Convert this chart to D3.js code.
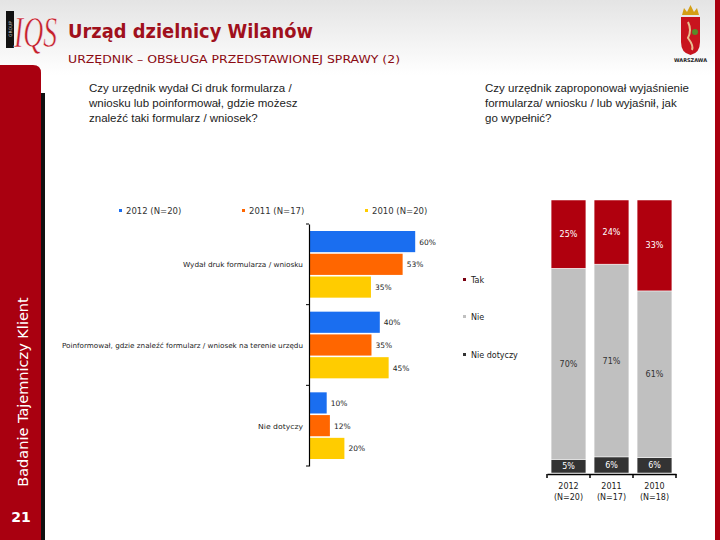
<!DOCTYPE html>
<html><head><meta charset="utf-8">
<script src="https://cdn.jsdelivr.net/npm/d3@7"></script>
<style>body{margin:0;background:#fff}svg{display:block}</style>
</head><body>
<script>
// ---- data ----
const categories = ["Wydał druk formularza / wniosku", "Poinformował, gdzie znaleźć formularz / wniosek na terenie urzędu", "Nie dotyczy"];
const seriesNames = ["2012 (N=20)", "2011 (N=17)", "2010 (N=20)"];
const values2012 = [60, 40, 10];
const values2011 = [52.9, 35.3, 11.8];
const values2010 = [35, 45, 20];

const years = ["2012", "2011", "2010"];
const yearN = ["(N=20)", "(N=17)", "(N=18)"];
const stackNames = ["Tak", "Nie", "Nie dotyczy"];
const tak = [25, 23.5, 33.3];
const nie = [70, 70.6, 61.1];
const nieDotyczy = [5, 5.9, 5.6];

const seriesColors = ["#1a6ef0", "#ff6600", "#ffcc00"];
const stackColors = {"Tak": "#b0000e", "Nie": "#c0c0c0", "Nie dotyczy": "#333333"};
const RED = "#a90010";

const W = 720, H = 540;
const svg = d3.select("body").append("svg").attr("width", W).attr("height", H);
const defs = svg.append("defs");
const g1 = defs.append("linearGradient").attr("id", "hdr").attr("x1", 0).attr("y1", 0).attr("x2", 0).attr("y2", 1);
g1.append("stop").attr("offset", "0%").attr("stop-color", "#e4e4e4");
g1.append("stop").attr("offset", "100%").attr("stop-color", "#ffffff");
svg.append("rect").attr("width", W).attr("height", 75).attr("fill", "url(#hdr)");

// right red strip
svg.append("rect").attr("x", 715).attr("y", 0).attr("width", 5).attr("height", H).attr("fill", RED);
// left band with shadow
svg.append("rect").attr("x", 40).attr("y", 93).attr("width", 5).attr("height", H - 93).attr("fill", "#111");
svg.append("path").attr("d", "M0,65 H33 Q41,65 41,73 V540 H0 Z").attr("fill", RED);
svg.append("text").attr("transform", "translate(28,392) rotate(-90)").attr("text-anchor", "middle")
  .attr("font-family", "DejaVu Sans").attr("font-size", 14.5).attr("fill", "#fff").text("Badanie Tajemniczy Klient");
svg.append("text").attr("x", 21).attr("y", 522).attr("text-anchor", "middle")
  .attr("font-family", "DejaVu Sans").attr("font-weight", "bold").attr("font-size", 14).attr("fill", "#fff").text("21");

// logo
svg.append("rect").attr("x", 6).attr("y", 11).attr("width", 8).attr("height", 37).attr("fill", "#111");
svg.append("text").attr("transform", "translate(12,29) rotate(-90)").attr("text-anchor", "middle")
  .attr("font-family", "DejaVu Sans").attr("font-size", 4.5).attr("fill", "#ccc").text("GROUP");
svg.append("text").attr("x", 14).attr("y", 47).attr("font-family", "Liberation Serif").attr("font-style", "italic")
  .attr("font-size", 44).attr("fill", "#c4202c").attr("stroke", "#fff").attr("stroke-width", 0.6)
  .attr("textLength", 43).attr("lengthAdjust", "spacingAndGlyphs").text("IQS");

// titles
svg.append("text").attr("x", 68).attr("y", 38).attr("font-family", "DejaVu Sans").attr("font-weight", "bold")
  .attr("font-size", 19).attr("fill", "#a0101c").attr("textLength", 245).attr("lengthAdjust", "spacingAndGlyphs")
  .text("Urząd dzielnicy Wilanów");
svg.append("text").attr("x", 68).attr("y", 63).attr("font-family", "DejaVu Sans")
  .attr("font-size", 11).attr("fill", "#8a0a12").attr("textLength", 332).attr("lengthAdjust", "spacingAndGlyphs")
  .text("URZĘDNIK – OBSŁUGA PRZEDSTAWIONEJ SPRAWY (2)");

// crest
const crest = svg.append("g");
crest.append("path").attr("d", "M681,17 H700 V42 Q700,53 690.5,55 Q681,53 681,42 Z").attr("fill", "#c8141e");
crest.append("path").attr("d", "M682,15 L684,8 L687,12 L690.5,5 L694,12 L697,8 L699,15 Z").attr("fill", "#d4a017");
crest.append("path").attr("d", "M688,22 Q692,30 688,38 Q694,46 692,50").attr("fill", "none").attr("stroke", "#e8c090").attr("stroke-width", 2);
crest.append("circle").attr("cx", 695).attr("cy", 32).attr("r", 3).attr("fill", "#5a8a2a");
crest.append("text").attr("x", 690.5).attr("y", 62).attr("text-anchor", "middle").attr("font-family", "DejaVu Sans")
  .attr("font-weight", "bold").attr("font-size", 5).attr("fill", "#222").text("WARSZAWA");

// questions
const qFont = {family: "Liberation Sans", size: 11.5};
function lines(x, y0, arr) {
  arr.forEach((t, i) => svg.append("text").attr("x", x).attr("y", y0 + i * 15)
    .attr("font-family", qFont.family).attr("font-size", qFont.size).attr("fill", "#222").text(t));
}
lines(89, 92, ["Czy urzędnik wydał Ci druk formularza /", "wniosku lub poinformował, gdzie możesz", "znaleźć taki formularz / wniosek?"]);
lines(485, 92, ["Czy urzędnik zaproponował wyjaśnienie", "formularza/ wniosku / lub wyjaśnił, jak", "go wypełnić?"]);

// ---- left grouped bar chart ----
const seriesValues = [values2012, values2011, values2010];
const x = d3.scaleLinear().domain([0, 100]).range([309, 486]);
const yG = d3.scaleBand().domain(categories).range([224, 466]).paddingInner(0).paddingOuter(0);
const yS = d3.scaleBand().domain(seriesNames).range([7, yG.bandwidth() - 7]).paddingInner(0.07);

const left = svg.append("g");
categories.forEach((c, ci) => {
  seriesNames.forEach((s, si) => {
    const v = seriesValues[si][ci];
    const yy = yG(c) + yS(s);
    left.append("rect").attr("x", x(0)).attr("y", yy).attr("width", x(v) - x(0)).attr("height", yS.bandwidth())
      .attr("fill", seriesColors[si]);
    left.append("text").attr("x", x(v) + 4).attr("y", yy + yS.bandwidth() / 2 + 3)
      .attr("font-family", "DejaVu Sans").attr("font-size", 7.5).attr("fill", "#222")
      .text(Math.round(v) + "%");
  });
});
const yAxis = d3.axisLeft(yG).tickSize(0).tickFormat("");
const ya = svg.append("g").attr("transform", `translate(${x(0)},0)`).call(yAxis);
ya.select(".domain").attr("stroke", "#000").attr("stroke-width", 1.2);
yG.domain().concat(["end"]).forEach((c, i) => {
  const yy = i < categories.length ? yG(c) : yG.range()[1];
  svg.append("line").attr("x1", x(0) - 3).attr("x2", x(0)).attr("y1", yy).attr("y2", yy).attr("stroke", "#000");
});
const catLabelW = [120, 241, 45];
categories.forEach((c, i) => {
  svg.append("text").attr("x", 303).attr("y", yG(c) + yG.bandwidth() / 2 + 3).attr("text-anchor", "end")
    .attr("font-family", "DejaVu Sans").attr("font-size", 7).attr("fill", "#222")
    .attr("textLength", catLabelW[i]).attr("lengthAdjust", "spacingAndGlyphs").text(c);
});

// legend left
const legX = [119, 242, 365];
seriesNames.forEach((s, i) => {
  svg.append("rect").attr("x", legX[i]).attr("y", 209).attr("width", 3).attr("height", 3).attr("fill", seriesColors[i]);
  svg.append("text").attr("x", legX[i] + 7).attr("y", 214).attr("font-family", "DejaVu Sans").attr("font-size", 8.5)
    .attr("fill", "#333").text(s);
});

// ---- right stacked chart ----
const xB = d3.scaleBand().domain(years).range([547, 676]).paddingInner(0.19).paddingOuter(0.095);
const xBoundary = d3.scaleBand().domain(years).range([547, 676]);
const yB = d3.scaleLinear().domain([0, 100]).range([473, 200]);
const rows = years.map((yr, i) => ({year: yr, "Tak": tak[i], "Nie": nie[i], "Nie dotyczy": nieDotyczy[i]}));
const stack = d3.stack().keys(["Nie dotyczy", "Nie", "Tak"])(rows);
const labelColor = {"Tak": "#fff", "Nie": "#333", "Nie dotyczy": "#fff"};
stack.forEach(layer => {
  layer.forEach(d => {
    const yr = d.data.year;
    svg.append("rect").attr("x", xB(yr)).attr("y", yB(d[1])).attr("width", xB.bandwidth())
      .attr("height", yB(d[0]) - yB(d[1])).attr("fill", stackColors[layer.key])
      .attr("stroke", "#fff").attr("stroke-width", 0.5);
    svg.append("text").attr("x", xB(yr) + xB.bandwidth() / 2).attr("y", (yB(d[0]) + yB(d[1])) / 2 + 3)
      .attr("text-anchor", "middle").attr("font-family", "DejaVu Sans").attr("font-size", 8)
      .attr("fill", labelColor[layer.key]).text(Math.round(d.data[layer.key]) + "%");
  });
});
const xAxis = d3.axisBottom(xBoundary).tickSize(0).tickFormat("");
const xa = svg.append("g").attr("transform", `translate(0,${yB(0) + 1})`).call(xAxis);
xa.select(".domain").attr("stroke", "#000").attr("stroke-width", 1.5);
years.forEach((yr, i) => {
  svg.append("line").attr("x1", xBoundary(yr)).attr("x2", xBoundary(yr)).attr("y1", yB(0) + 1).attr("y2", yB(0) + 5).attr("stroke", "#000").attr("stroke-width", 1.5);
});
svg.append("line").attr("x1", xBoundary.range()[1]).attr("x2", xBoundary.range()[1]).attr("y1", yB(0) + 1).attr("y2", yB(0) + 5).attr("stroke", "#000").attr("stroke-width", 1.5);
years.forEach((yr, i) => {
  const cx = xBoundary(yr) + xBoundary.bandwidth() / 2;
  svg.append("text").attr("x", cx).attr("y", 489).attr("text-anchor", "middle").attr("font-family", "DejaVu Sans")
    .attr("font-size", 8).attr("fill", "#222").text(yr);
  svg.append("text").attr("x", cx).attr("y", 500).attr("text-anchor", "middle").attr("font-family", "DejaVu Sans")
    .attr("font-size", 8).attr("fill", "#222").text(yearN[i]);
});

// legend right
const legY = [280, 317, 355];
stackNames.forEach((s, i) => {
  svg.append("rect").attr("x", 463).attr("y", legY[i] - 2).attr("width", 3).attr("height", 3)
    .attr("fill", s === "Tak" ? "#7a0010" : stackColors[s]);
  svg.append("text").attr("x", 471).attr("y", legY[i] + 3).attr("font-family", "DejaVu Sans").attr("font-size", 8)
    .attr("fill", "#222").text(s);
});
</script>
</body></html>
